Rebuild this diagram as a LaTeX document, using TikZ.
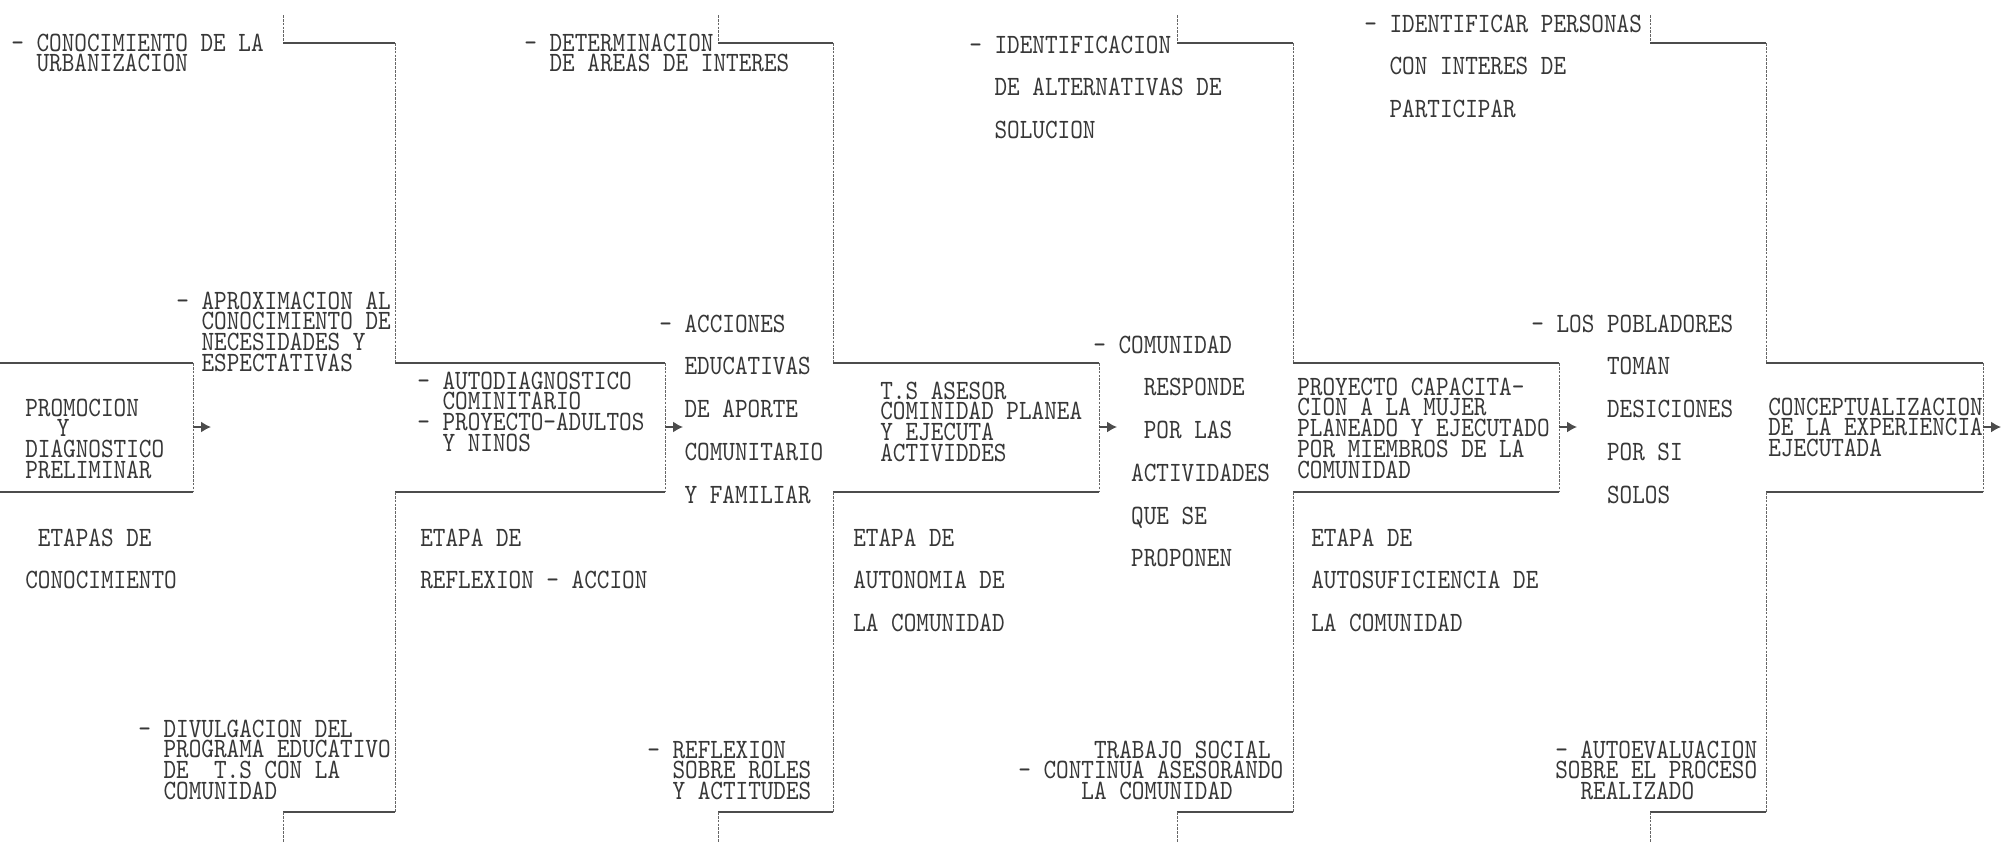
\documentclass[tikz,border=0pt]{standalone}
\usepackage{fontspec}
\usepackage{tikz}
\usetikzlibrary{arrows.meta}
\newfontfamily\dotfont{lmmono10-regular.otf}[FakeStretch=0.86]
\newcommand{\dotsp}[1]{\hspace*{#1\fontcharwd\font`M}}
\definecolor{tinta}{RGB}{55,55,55}

\begin{document}
\begin{tikzpicture}[x=0.2mm, y=-0.2mm,
		>={Latex[length=2mm,width=2.2mm]},   %Pfeilspitzen
		texto/.style={font=\dotfont\fontsize{15.9pt}{11.78pt}\selectfont, text=tinta, align=left, inner sep=0pt, anchor=north west},
		doble/.style={texto, font=\dotfont\fontsize{15.9pt}{24.3pt}\selectfont},
		hlin/.style={draw=black!70, line width=0.9pt},
		vlin/.style={draw=black!60, line width=0.5pt, dash pattern=on 1.5pt off 0.7pt}]
	\useasboundingbox (0,0) rectangle (2001,842);
	% primera caja
	\draw[hlin] (0,363) -- (193,363);
	\draw[vlin] (193,363) -- (193,492);
	\draw[hlin] (193,492) -- (0,492);
	\draw[->, hlin] (193,427) -- ++(18,0);
	% etapas con brazos
	\foreach \a/\b/\c in {283/395/665, 718/833/1099, 1177/1293/1559, 1650/1766/1983}{
		\draw[vlin] (\a,15) -- (\a,43);
		\draw[hlin] (\a,43) -- (\b,43);
		\draw[vlin] (\b,43) -- (\b,363);
		\draw[hlin] (\b,363) -- (\c,363);
		\draw[vlin] (\c,363) -- (\c,492);
		\draw[hlin] (\c,492) -- (\b,492);
		\draw[vlin] (\b,492) -- (\b,812);
		\draw[hlin] (\b,812) -- (\a,812);
		\draw[vlin] (\a,812) -- (\a,842);
		\draw[->, hlin] (\c,427) -- ++(18,0);
	}
	% textos arriba
	\node[texto] (conocimiento) at (11,33.5) {- CONOCIMIENTO DE LA\\\dotsp{2}URBANIZACION};
	\node[texto] (determinacion) at (524,33.5) {- DETERMINACION\\\dotsp{2}DE AREAS DE INTERES};
	\node[doble] (identificacion) at (969,35.5) {- IDENTIFICACION\\\dotsp{2}DE ALTERNATIVAS DE\\\dotsp{2}SOLUCION};
	\node[doble] (identificar) at (1364,14.5) {- IDENTIFICAR PERSONAS\\\dotsp{2}CON INTERES DE\\\dotsp{2}PARTICIPAR};
	% textos en los brazos
	\node[texto] (aproximacion) at (176,291.5) {- APROXIMACION AL\\\dotsp{2}CONOCIMIENTO DE\\\dotsp{2}NECESIDADES Y\\\dotsp{2}ESPECTATIVAS};
	\node[doble] (acciones) at (659,314.5) {- ACCIONES\\\dotsp{2}EDUCATIVAS\\\dotsp{2}DE APORTE\\\dotsp{2}COMUNITARIO\\\dotsp{2}Y FAMILIAR};
	\node[doble] (comunidad) at (1093,335.5) {- COMUNIDAD\\\dotsp{4}RESPONDE\\\dotsp{4}POR LAS\\\dotsp{3}ACTIVIDADES\\\dotsp{3}QUE SE\\\dotsp{3}PROPONEN};
	\node[doble] (pobladores) at (1531,314.5) {- LOS POBLADORES\\\dotsp{6}TOMAN\\\dotsp{6}DESICIONES\\\dotsp{6}POR SI\\\dotsp{6}SOLOS};
	% textos en las cajas
	\node[texto] (promocion) at (25,398.5) {PROMOCION\\\dotsp{2.5}Y\\DIAGNOSTICO\\PRELIMINAR};
	\node[texto] (autodiagnostico) at (417,371.5) {- AUTODIAGNOSTICO\\\dotsp{2}COMINITARIO\\- PROYECTO-ADULTOS\\\dotsp{2}Y NINOS};
	\node[texto] (asesor) at (880,381.5) {T.S ASESOR\\COMINIDAD PLANEA\\Y EJECUTA\\ACTIVIDDES};
	\node[texto] (capacitacion) at (1297,377.5) {PROYECTO CAPACITA-\\CION A LA MUJER\\PLANEADO Y EJECUTADO\\POR MIEMBROS DE LA\\COMUNIDAD};
	\node[texto] (conceptualizacion) at (1768,397.5) {CONCEPTUALIZACION\\DE LA EXPERIENCIA\\EJECUTADA};
	% nombres de las etapas
	\node[doble] (etapa1) at (25,528.5) {\dotsp{1}ETAPAS DE\\CONOCIMIENTO};
	\node[doble] (etapa2) at (420,528.5) {ETAPA DE\\REFLEXION - ACCION};
	\node[doble] (etapa3) at (853,528.5) {ETAPA DE\\AUTONOMIA DE\\LA COMUNIDAD};
	\node[doble] (etapa4) at (1311,528.5) {ETAPA DE\\AUTOSUFICIENCIA DE\\LA COMUNIDAD};
	% textos abajo
	\node[texto] (divulgacion) at (138,719.5) {- DIVULGACION DEL\\\dotsp{2}PROGRAMA EDUCATIVO\\\dotsp{2}DE\ \ T.S CON LA\\\dotsp{2}COMUNIDAD};
	\node[texto] (reflexion) at (647,740.5) {- REFLEXION\\\dotsp{2}SOBRE ROLES\\\dotsp{2}Y ACTITUDES};
	\node[texto] (trabajo) at (1018,740.5) {\dotsp{6}TRABAJO SOCIAL\\- CONTINUA ASESORANDO\\\dotsp{5}LA COMUNIDAD};
	\node[texto] (autoevaluacion) at (1555,740.5) {- AUTOEVALUACION\\SOBRE EL PROCESO\\\dotsp{2}REALIZADO};
\end{tikzpicture}
\end{document}
